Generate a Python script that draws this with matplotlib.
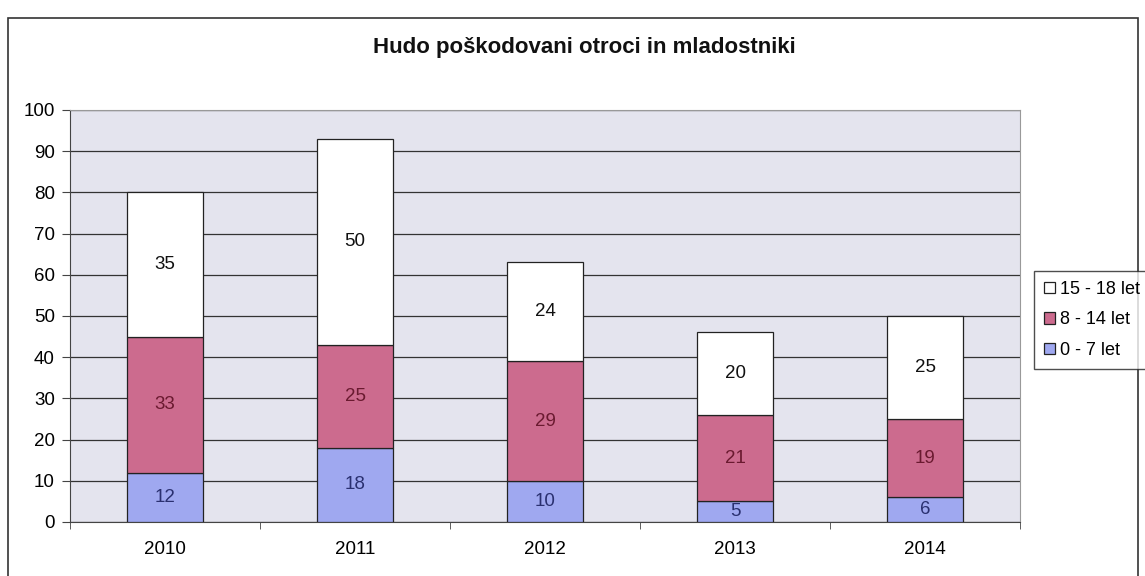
import matplotlib.pyplot as plt
import numpy as np

years = ["2010", "2011", "2012", "2013", "2014"]
age_0_7 = [12, 18, 10, 5, 6]
age_8_14 = [33, 25, 29, 21, 19]
age_15_18 = [35, 50, 24, 20, 25]

plt.rcParams['font.family'] = ['Liberation Sans', 'DejaVu Sans']

fig = plt.figure(figsize=(11.45, 5.76), dpi=100)
fig.patch.set_facecolor('white')

# chart border
border = plt.Rectangle((8 / 1145, -0.05), 1130 / 1145, 1 - 18 / 576 + 0.05,
                       transform=fig.transFigure, fill=False, edgecolor='#333333', lw=1.2)
fig.patches.append(border)

ax = fig.add_axes([70 / 1145, 1 - 522 / 576, 950 / 1145, 412 / 576])
ax.set_facecolor('#e4e4ee')

x = np.arange(len(years))
w = 0.405
b1 = ax.bar(x, age_0_7, w, color='#9fa8f0', edgecolor='#222222', lw=0.9, label='0 - 7 let', zorder=3)
bottom2 = np.array(age_0_7)
b2 = ax.bar(x, age_8_14, w, bottom=bottom2, color='#cc6b8e', edgecolor='#222222', lw=0.9, label='8 - 14 let', zorder=3)
bottom3 = bottom2 + np.array(age_8_14)
b3 = ax.bar(x, age_15_18, w, bottom=bottom3, color='white', edgecolor='#222222', lw=0.9, label='15 - 18 let', zorder=3)

ax.bar_label(b1, labels=[str(v) for v in age_0_7], label_type='center', color='#2a3070', fontsize=13.5)
ax.bar_label(b2, labels=[str(v) for v in age_8_14], label_type='center', color='#6a1a30', fontsize=13.5)
ax.bar_label(b3, labels=[str(v) for v in age_15_18], label_type='center', color='#111111', fontsize=13.5)

ax.set_ylim(0, 100)
ax.set_xlim(-0.5, 4.5)
ax.set_yticks(range(0, 101, 10))
ax.yaxis.grid(True, color='#333333', lw=0.9)
ax.set_axisbelow(True)
ax.set_xticks(x)
ax.set_xticklabels(years)
ax.set_xticks(np.arange(-0.5, 5, 1), minor=True)
ax.tick_params(axis='x', which='major', length=0, pad=14, labelsize=13.5)
ax.tick_params(axis='x', which='minor', length=5, color='#444444')
ax.tick_params(axis='y', length=6, color='#444444', labelsize=13.5, pad=5)
for s in ['top', 'right']:
    ax.spines[s].set_color('#999999')
ax.spines['left'].set_color('#444444')
ax.spines['bottom'].set_color('#444444')

fig.text(584 / 1145, 1 - 48 / 576, 'Hudo poškodovani otroci in mladostniki',
         ha='center', va='center', fontsize=16, fontweight='bold', color='#111111')

handles = [b3, b2, b1]
leg = fig.legend(handles, [h.get_label() for h in handles], loc='upper left',
                 bbox_to_anchor=(1034 / 1145, 1 - 271 / 576), frameon=True, fancybox=False,
                 edgecolor='#222222', fontsize=13, handlelength=0.6, handleheight=0.6,
                 handletextpad=0.3, borderpad=0.55, labelspacing=0.75, borderaxespad=0)

fig.savefig('out.png', dpi=100)
